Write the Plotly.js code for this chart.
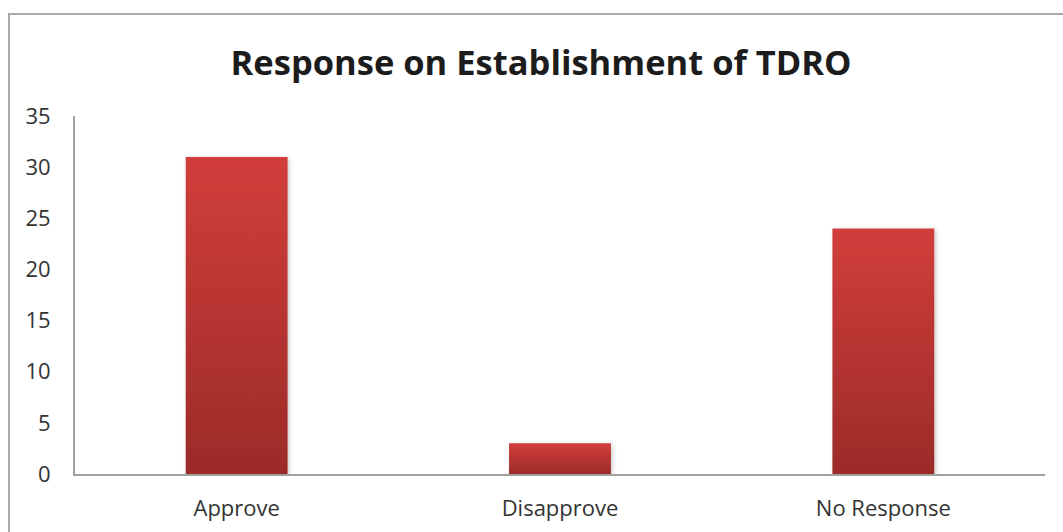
<!DOCTYPE html>
<html>
<head>
<meta charset="utf-8">
<script src="https://cdn.plot.ly/plotly-3.0.1.min.js"></script>
<style>
  html, body { margin: 0; padding: 0; background: #ffffff; width: 1063px; height: 532px; overflow: hidden; }
  #frame { position: absolute; left: 8px; top: 13px; width: 1100px; height: 600px; border: 2px solid #a9a9a9; box-sizing: border-box; }
  #chart { position: absolute; left: 0; top: 0; width: 1063px; height: 532px; }
</style>
</head>
<body>
<div id="frame"></div>
<div id="chart"></div>
<script>
// Survey responses on establishing the TDRO
const categories = ['Approve', 'Disapprove', 'No Response'];
const responses = [31, 3, 24];
const yTicks = [0, 5, 10, 15, 20, 25, 30, 35];

const trace = {
  type: 'bar',
  x: categories,
  y: responses,
  marker: { color: '#b83532', line: { width: 0 } },
  hoverinfo: 'x+y'
};

const layout = {
  width: 1063,
  height: 532,
  margin: { l: 75, r: 18, t: 116, b: 58 },
  paper_bgcolor: 'rgba(0,0,0,0)',
  plot_bgcolor: 'rgba(0,0,0,0)',
  bargap: 0.685,
  showlegend: false,
  title: {
    text: '<b>Response on Establishment of TDRO</b>',
    font: { family: 'Open Sans', size: 34.5, color: '#1c1c1c' },
    x: 0.4805, xref: 'paper', xanchor: 'center',
    y: 0.882, yref: 'container', yanchor: 'middle'
  },
  xaxis: {
    showline: true, linecolor: '#a0a0a0', linewidth: 2,
    showgrid: false, zeroline: false, ticks: '',
    ticklabelstandoff: 14,
    tickfont: { family: 'Open Sans', size: 22, color: '#333333' }
  },
  yaxis: {
    range: [0, 35],
    tickvals: yTicks,
    ticktext: yTicks.map(String),
    showline: true, linecolor: '#a0a0a0', linewidth: 2,
    showgrid: false, zeroline: false, ticks: '',
    ticklabelstandoff: 18,
    tickfont: { family: 'Open Sans', size: 22, color: '#333333' }
  }
};

// Vertical light-to-dark red fill and a soft shadow for every bar
function styleBars(gd) {
  const svg = gd.querySelector('svg.main-svg');
  if (!svg) return;
  const ns = 'http://www.w3.org/2000/svg';
  let defs = svg.querySelector('defs');
  if (!defs) { defs = document.createElementNS(ns, 'defs'); svg.insertBefore(defs, svg.firstChild); }
  if (!svg.querySelector('#barFill')) {
    const grad = document.createElementNS(ns, 'linearGradient');
    grad.setAttribute('id', 'barFill');
    grad.setAttribute('x1', '0'); grad.setAttribute('y1', '0');
    grad.setAttribute('x2', '0'); grad.setAttribute('y2', '1');
    [['0', '#d13e3b'], ['1', '#9c2b28']].forEach(function (s) {
      const stop = document.createElementNS(ns, 'stop');
      stop.setAttribute('offset', s[0]);
      stop.setAttribute('stop-color', s[1]);
      grad.appendChild(stop);
    });
    defs.appendChild(grad);

    const filt = document.createElementNS(ns, 'filter');
    filt.setAttribute('id', 'barShadow');
    filt.setAttribute('x', '-20%'); filt.setAttribute('y', '-20%');
    filt.setAttribute('width', '140%'); filt.setAttribute('height', '140%');
    const sh = document.createElementNS(ns, 'feDropShadow');
    sh.setAttribute('dx', '1.5'); sh.setAttribute('dy', '1.5');
    sh.setAttribute('stdDeviation', '2');
    sh.setAttribute('flood-color', '#000000');
    sh.setAttribute('flood-opacity', '0.22');
    filt.appendChild(sh);
    defs.appendChild(filt);
  }
  gd.querySelectorAll('.barlayer .point path').forEach(function (p) {
    p.style.fill = 'url(#barFill)';
    p.setAttribute('filter', 'url(#barShadow)');
  });
}

const gd = document.getElementById('chart');
Plotly.newPlot(gd, [trace], layout, { displayModeBar: false, staticPlot: true }).then(function () {
  styleBars(gd);
  gd.on('plotly_afterplot', function () { styleBars(gd); });
});
</script>
</body>
</html>
